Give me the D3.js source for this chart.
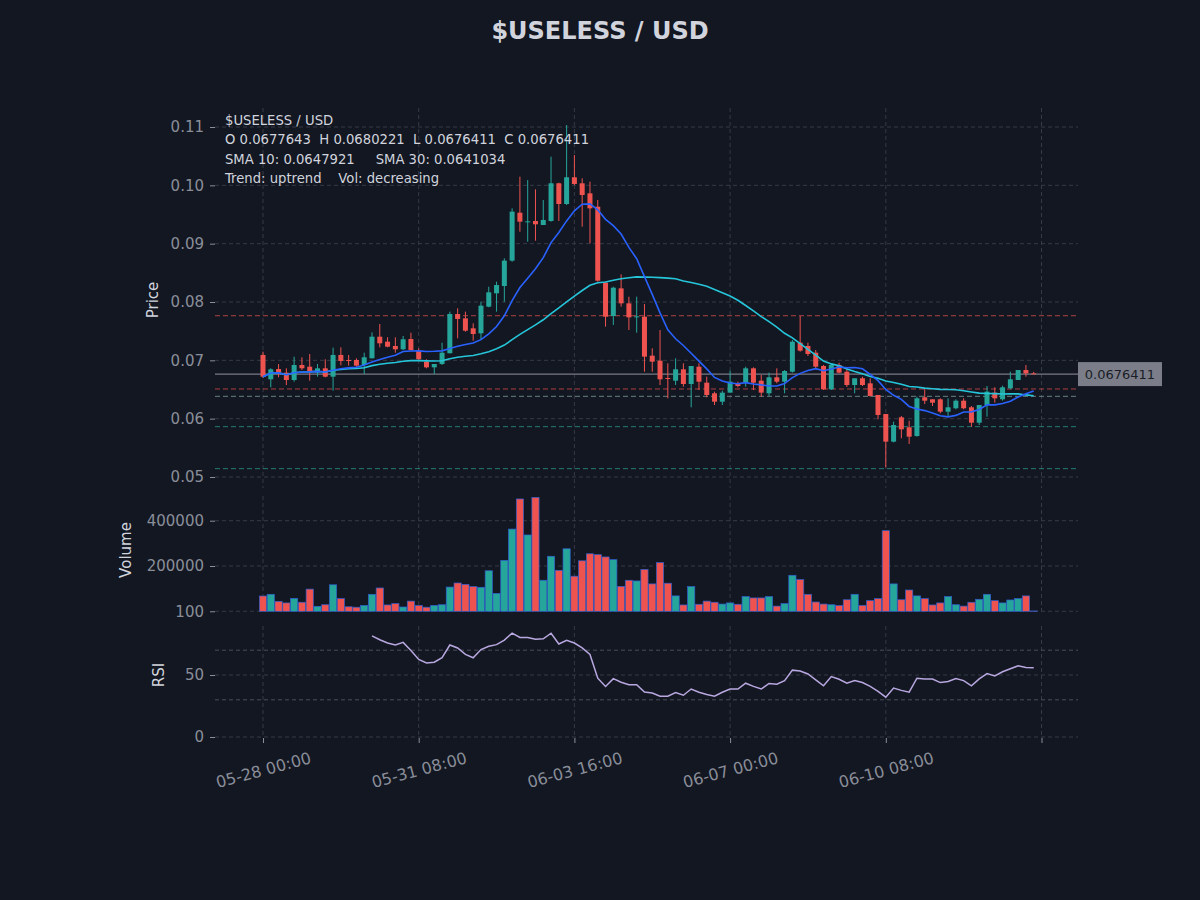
<!DOCTYPE html>
<html>
<head>
<meta charset="utf-8">
<title>$USELESS / USD</title>
<script src="https://d3js.org/d3.v7.min.js"></script>
<style>
  body { margin: 0; background: #131722; }
  svg { display: block; font-family: "DejaVu Sans", sans-serif; }
</style>
</head>
<body>
<div id="chart"></div>
<script>
// 4h candles, first one at 05-28 00:00
const opens = [
  0.07092, 0.06675, 0.06851, 0.06788, 0.06663, 0.06920, 0.06891, 0.06795, 0.06863, 0.06720,
  0.07092, 0.07006, 0.07006, 0.06920, 0.07035, 0.07405, 0.07320, 0.07246, 0.07189, 0.07366,
  0.07166, 0.06977, 0.06880, 0.06937, 0.07121, 0.07794, 0.07720, 0.07549, 0.07463, 0.07920,
  0.08149, 0.08274, 0.08709, 0.09531, 0.09370, 0.09389, 0.09320, 0.09389, 0.10035, 0.09680,
  0.10138, 0.10035, 0.09863, 0.09634, 0.08331, 0.07760, 0.08234, 0.07977, 0.07737, 0.07748,
  0.07080, 0.06994, 0.06697, 0.06651, 0.06846, 0.06594, 0.06891, 0.06617, 0.06435, 0.06291,
  0.06446, 0.06606, 0.06617, 0.06863, 0.06651, 0.06435, 0.06709, 0.06634, 0.06805, 0.07303,
  0.07246, 0.07131, 0.06903, 0.06503, 0.06920, 0.06805, 0.06577, 0.06692, 0.06606, 0.06406,
  0.06080, 0.05606, 0.06023, 0.05852, 0.05703, 0.06366, 0.06332, 0.06332, 0.06120, 0.06178,
  0.06308, 0.06195, 0.05931, 0.06234, 0.06446, 0.06332, 0.06520, 0.06663, 0.06834, 0.0677643
];
const highs = [
  0.07148, 0.06864, 0.06937, 0.06863, 0.07062, 0.07052, 0.07109, 0.06937, 0.07018, 0.07217,
  0.07223, 0.07092, 0.07035, 0.07131, 0.07480, 0.07623, 0.07395, 0.07395, 0.07418, 0.07474,
  0.07206, 0.07018, 0.06937, 0.07303, 0.07834, 0.07892, 0.07834, 0.07635, 0.08005, 0.08263,
  0.08348, 0.08749, 0.09606, 0.10148, 0.10091, 0.09932, 0.09749, 0.10491, 0.10045, 0.11034,
  0.10520, 0.10120, 0.10063, 0.09749, 0.08348, 0.08263, 0.08474, 0.08091, 0.08091, 0.07966,
  0.07206, 0.07520, 0.06949, 0.07035, 0.06949, 0.06903, 0.06949, 0.06720, 0.06463, 0.06480,
  0.06823, 0.06634, 0.06891, 0.06880, 0.06749, 0.06789, 0.06863, 0.06834, 0.07349, 0.07760,
  0.07303, 0.07177, 0.06920, 0.06937, 0.06959, 0.06880, 0.06692, 0.06720, 0.06692, 0.06406,
  0.06080, 0.05949, 0.06046, 0.05965, 0.06377, 0.06520, 0.06332, 0.06349, 0.06349, 0.06332,
  0.06349, 0.06217, 0.06234, 0.06560, 0.06538, 0.06566, 0.06805, 0.06834, 0.06920, 0.0680221
];
const lows = [
  0.06700, 0.06538, 0.06709, 0.06577, 0.06634, 0.06834, 0.06651, 0.06720, 0.06709, 0.06480,
  0.06915, 0.06909, 0.06891, 0.06766, 0.07035, 0.07223, 0.07223, 0.07131, 0.07177, 0.07166,
  0.07006, 0.06863, 0.06766, 0.06920, 0.07121, 0.07378, 0.07491, 0.07337, 0.07349, 0.07909,
  0.07834, 0.08005, 0.08691, 0.09205, 0.09034, 0.09051, 0.09320, 0.09377, 0.09389, 0.09663,
  0.10006, 0.09291, 0.09006, 0.08348, 0.07577, 0.07606, 0.07920, 0.07520, 0.07474, 0.06805,
  0.06805, 0.06577, 0.06349, 0.06577, 0.06548, 0.06195, 0.06491, 0.06366, 0.06234, 0.06234,
  0.06446, 0.06538, 0.06548, 0.06491, 0.06377, 0.06389, 0.06606, 0.06435, 0.06789, 0.07149,
  0.07074, 0.06863, 0.06491, 0.06491, 0.06778, 0.06543, 0.06435, 0.06560, 0.06377, 0.05989,
  0.05166, 0.05594, 0.05663, 0.05566, 0.05691, 0.06251, 0.06217, 0.06092, 0.06046, 0.06161,
  0.06161, 0.05863, 0.05891, 0.06034, 0.06274, 0.06309, 0.06503, 0.06663, 0.06720, 0.0676411
];
const closes = [
  0.06720, 0.06846, 0.06788, 0.06663, 0.06920, 0.06863, 0.06817, 0.06863, 0.06720, 0.07092,
  0.06989, 0.06989, 0.06909, 0.07052, 0.07405, 0.07292, 0.07234, 0.07189, 0.07361, 0.07177,
  0.07018, 0.06880, 0.06937, 0.07131, 0.07794, 0.07709, 0.07508, 0.07451, 0.07937, 0.08166,
  0.08291, 0.08709, 0.09549, 0.09377, 0.09383, 0.09332, 0.09406, 0.10035, 0.09680, 0.10138,
  0.10023, 0.09834, 0.09606, 0.08365, 0.07748, 0.08245, 0.07977, 0.07737, 0.07754, 0.07063,
  0.06977, 0.06675, 0.06680, 0.06846, 0.06594, 0.06903, 0.06634, 0.06406, 0.06291, 0.06446,
  0.06634, 0.06560, 0.06863, 0.06617, 0.06446, 0.06709, 0.06634, 0.06817, 0.07320, 0.07166,
  0.07109, 0.06891, 0.06503, 0.06920, 0.06788, 0.06577, 0.06692, 0.06577, 0.06389, 0.06063,
  0.05606, 0.05891, 0.05818, 0.05691, 0.06349, 0.06308, 0.06274, 0.06120, 0.06195, 0.06308,
  0.06178, 0.05931, 0.06234, 0.06463, 0.06349, 0.06538, 0.06675, 0.06834, 0.06776, 0.0676411
];
const volumes = [
  67500, 75000, 44000, 37000, 57000, 40000, 98000, 22000, 29000, 117000,
  56000, 20000, 18000, 26000, 75000, 103000, 28000, 34000, 19000, 45000,
  26000, 18000, 26000, 29000, 107000, 125000, 119000, 109000, 106000, 179000,
  79000, 225000, 363000, 496000, 337000, 503000, 137000, 243000, 181000, 276000,
  155000, 223000, 254000, 250000, 240000, 228000, 110000, 137000, 134000, 185000,
  121000, 215000, 124000, 68000, 28000, 109000, 31000, 45000, 40000, 32000,
  37000, 31000, 65000, 59000, 59000, 65000, 23000, 34000, 159000, 140000,
  75000, 41000, 32000, 29000, 25000, 51000, 75000, 26000, 47000, 56000,
  356000, 121000, 51000, 94000, 68000, 56000, 28000, 37000, 65000, 29000,
  23000, 40000, 53000, 75000, 47000, 37000, 50000, 56000, 68000, 1500
];
// RSI(14) is drawn from candle 14 onwards
const rsiStart = 14;
const rsiValues = [
  81.6, 78.4, 75.8, 74.2, 76.3, 69.7, 62.6, 59.7, 60.3, 63.9,
  74.2, 71.8, 66.6, 63.9, 70.5, 73.2, 74.5, 78.2, 83.7, 80.3,
  80.3, 78.9, 79.2, 83.7, 75.0, 77.9, 75.8, 71.8, 66.6, 47.4,
  40.8, 47.1, 44.2, 42.1, 42.1, 36.3, 35.5, 32.9, 32.9, 35.8,
  33.7, 38.7, 36.1, 34.2, 32.9, 36.1, 38.7, 38.7, 43.4, 40.8,
  38.7, 43.2, 42.6, 45.5, 53.9, 53.2, 50.8, 46.1, 41.3, 48.7,
  46.6, 43.4, 45.5, 43.9, 40.8, 36.8, 32.1, 39.5, 37.6, 36.1,
  47.4, 46.8, 46.8, 43.9, 44.7, 47.1, 45.5, 41.3, 46.8, 51.1,
  49.2, 52.6, 55.0, 57.4, 56.1, 55.8
];

const xTickIndex = [0, 20, 40, 60, 80, 100];
const xTickLabels = ["05-28 00:00", "05-31 08:00", "06-03 16:00", "06-07 00:00", "06-10 08:00", ""];
const priceTicks = [0.05, 0.06, 0.07, 0.08, 0.09, 0.10, 0.11];
const volumeTicks = [100, 200000, 400000];
const rsiTicks = [0, 50];
const rsiBands = [70, 30];

const resistanceLevels = [0.07765, 0.06509];
const supportLevels = [0.05863, 0.05143];
const pivotLevels = [0.06383];
const lastPrice = 0.0676411;

const title = "$USELESS / USD";
const infoLines = [
  "$USELESS / USD",
  "O 0.0677643  H 0.0680221  L 0.0676411  C 0.0676411",
  "SMA 10: 0.0647921     SMA 30: 0.0641034",
  "Trend: uptrend    Vol: decreasing"
];

// colours
const bg = "#131722";
const upColor = "#26a69a";
const downColor = "#ef5350";
const gridColor = "#363a45";
const tickColor = "#8a8e99";
const labelColor = "#d1d4dc";

const width = 1200, height = 900;
const plotLeft = 215, plotRight = 1078;
const price = { top: 108, bottom: 488 };
const vol = { top: 496, bottom: 614 };
const rsiPanel = { top: 626, bottom: 738 };

// simple moving average, partial windows at the start
function sma(arr, n) {
  return arr.map((d, i) => d3.mean(arr.slice(Math.max(0, i - n + 1), i + 1)));
}
const sma10 = sma(closes, 10);
const sma30 = sma(closes, 30);

const candles = closes.map((c, i) => ({
  i: i, o: opens[i], h: highs[i], l: lows[i], c: c, v: volumes[i]
}));

const svg = d3.select("#chart")
  .append("svg")
  .attr("width", width)
  .attr("height", height);

svg.append("rect").attr("width", width).attr("height", height).attr("fill", bg);

const x = d3.scaleLinear().domain([0, 100]).range([263, 1041.5]);
const yPrice = d3.scaleLinear().domain([0.05, 0.11]).range([477, 127]);
const yVol = d3.scaleLinear().domain([0, 400000]).range([611.3, 520.7]);
const yRsi = d3.scaleLinear().domain([0, 100]).range([737, 613]);

// grid helpers
function hLines(values, scale, color, dash, opacity) {
  svg.append("g").selectAll("line")
    .data(values).enter().append("line")
    .attr("x1", plotLeft).attr("x2", plotRight)
    .attr("y1", d => scale(d)).attr("y2", d => scale(d))
    .attr("stroke", color)
    .attr("stroke-width", 1)
    .attr("stroke-dasharray", dash)
    .attr("opacity", opacity);
}
function vLines(panel) {
  svg.append("g").selectAll("line")
    .data(xTickIndex).enter().append("line")
    .attr("x1", d => x(d)).attr("x2", d => x(d))
    .attr("y1", panel.top).attr("y2", panel.bottom)
    .attr("stroke", gridColor)
    .attr("stroke-dasharray", "4,3");
}

[price, vol, rsiPanel].forEach(vLines);
hLines(priceTicks, yPrice, gridColor, "4,3", 1);
hLines(volumeTicks, yVol, gridColor, "4,3", 1);
hLines(rsiTicks, yRsi, gridColor, "4,3", 1);
hLines(rsiBands, yRsi, "#4a4e5a", "4,3", 1);

// support / resistance levels
hLines(resistanceLevels, yPrice, downColor, "5,3", 0.7);
hLines(pivotLevels, yPrice, "#7f9c98", "5,3", 0.8);
hLines(supportLevels, yPrice, upColor, "5,3", 0.7);

// last price line + label
svg.append("line")
  .attr("x1", plotLeft).attr("x2", plotRight)
  .attr("y1", yPrice(lastPrice)).attr("y2", yPrice(lastPrice))
  .attr("stroke", "#787b86").attr("stroke-width", 1.2);
svg.append("rect")
  .attr("x", plotRight).attr("y", yPrice(lastPrice) - 12)
  .attr("width", 84).attr("height", 24)
  .attr("fill", "#7b7e89");
svg.append("text")
  .attr("x", plotRight + 42).attr("y", yPrice(lastPrice))
  .attr("dy", "0.35em")
  .attr("text-anchor", "middle")
  .attr("font-size", 13)
  .attr("fill", "#1a1d26")
  .text(lastPrice.toFixed(7));

// candles
const bodyW = 5;
const cg = svg.append("g");
cg.selectAll(".wick")
  .data(candles).enter().append("line")
  .attr("class", "wick")
  .attr("x1", d => x(d.i)).attr("x2", d => x(d.i))
  .attr("y1", d => yPrice(d.h)).attr("y2", d => yPrice(d.l))
  .attr("stroke", d => d.c >= d.o ? upColor : downColor)
  .attr("stroke-width", 1);
cg.selectAll(".body")
  .data(candles).enter().append("rect")
  .attr("class", "body")
  .attr("x", d => x(d.i) - bodyW / 2)
  .attr("width", bodyW)
  .attr("y", d => yPrice(Math.max(d.o, d.c)))
  .attr("height", d => Math.max(1, Math.abs(yPrice(d.o) - yPrice(d.c))))
  .attr("fill", d => d.c >= d.o ? upColor : downColor);

// moving averages
const line = d3.line().x((d, i) => x(i)).y(d => yPrice(d));
svg.append("path").datum(sma30)
  .attr("d", line).attr("fill", "none")
  .attr("stroke", "#26c6da").attr("stroke-width", 1.6);
svg.append("path").datum(sma10)
  .attr("d", line).attr("fill", "none")
  .attr("stroke", "#2962ff").attr("stroke-width", 1.6);

// volume bars
svg.append("g").selectAll("rect")
  .data(candles).enter().append("rect")
  .attr("x", d => x(d.i) - 3.6)
  .attr("width", 7.2)
  .attr("y", d => yVol(d.v))
  .attr("height", d => yVol(0) - yVol(d.v))
  .attr("fill", d => d.c >= d.o ? upColor : downColor)
  .attr("stroke", "#2f5fd0")
  .attr("stroke-width", 0.7);

// RSI
const rsiLine = d3.line().x((d, i) => x(i + rsiStart)).y(d => yRsi(d));
svg.append("path").datum(rsiValues)
  .attr("d", rsiLine).attr("fill", "none")
  .attr("stroke", "#b9a8e0").attr("stroke-width", 1.5);

// axes
function styleAxis(g) {
  g.select(".domain").remove();
  g.selectAll(".tick line").attr("stroke", tickColor);
  g.selectAll(".tick text").attr("fill", tickColor).attr("font-size", 15)
    .attr("font-family", "DejaVu Sans, sans-serif");
}
svg.append("g").attr("transform", `translate(${plotLeft},0)`)
  .call(d3.axisLeft(yPrice).tickValues(priceTicks).tickSize(5).tickPadding(6).tickFormat(d3.format(".2f")))
  .call(styleAxis);
svg.append("g").attr("transform", `translate(${plotLeft},0)`)
  .call(d3.axisLeft(yVol).tickValues(volumeTicks).tickSize(5).tickPadding(6).tickFormat(d3.format("d")))
  .call(styleAxis);
svg.append("g").attr("transform", `translate(${plotLeft},0)`)
  .call(d3.axisLeft(yRsi).tickValues(rsiTicks).tickSize(5).tickPadding(6).tickFormat(d3.format("d")))
  .call(styleAxis);

const xAxisG = svg.append("g").attr("transform", `translate(0,${rsiPanel.bottom})`)
  .call(d3.axisBottom(x).tickValues(xTickIndex).tickSize(5).tickFormat((d, i) => xTickLabels[i]))
  .call(styleAxis);
xAxisG.selectAll(".tick text")
  .attr("font-size", 16)
  .attr("y", 32).attr("dy", "0.35em")
  .attr("text-anchor", "middle")
  .attr("transform", "rotate(-15 0 32)");

// axis titles
function yTitle(text, xPos, yPos) {
  svg.append("text")
    .attr("transform", `translate(${xPos},${yPos}) rotate(-90)`)
    .attr("text-anchor", "middle")
    .attr("font-size", 15)
    .attr("fill", labelColor)
    .text(text);
}
yTitle("Price", 158, 300);
yTitle("Volume", 131, 550);
yTitle("RSI", 164, 675);

// title
svg.append("text")
  .attr("x", 600).attr("y", 39)
  .attr("text-anchor", "middle")
  .attr("font-size", 24)
  .attr("font-weight", "bold")
  .attr("fill", labelColor)
  .text(title);

// info box text, top left of price panel
svg.append("g").selectAll("text")
  .data(infoLines).enter().append("text")
  .attr("x", 225)
  .attr("y", (d, i) => 125 + i * 19.3)
  .attr("font-size", 13.2)
  .attr("fill", labelColor)
  .attr("xml:space", "preserve")
  .style("white-space", "pre")
  .text(d => d);
</script>
</body>
</html>
